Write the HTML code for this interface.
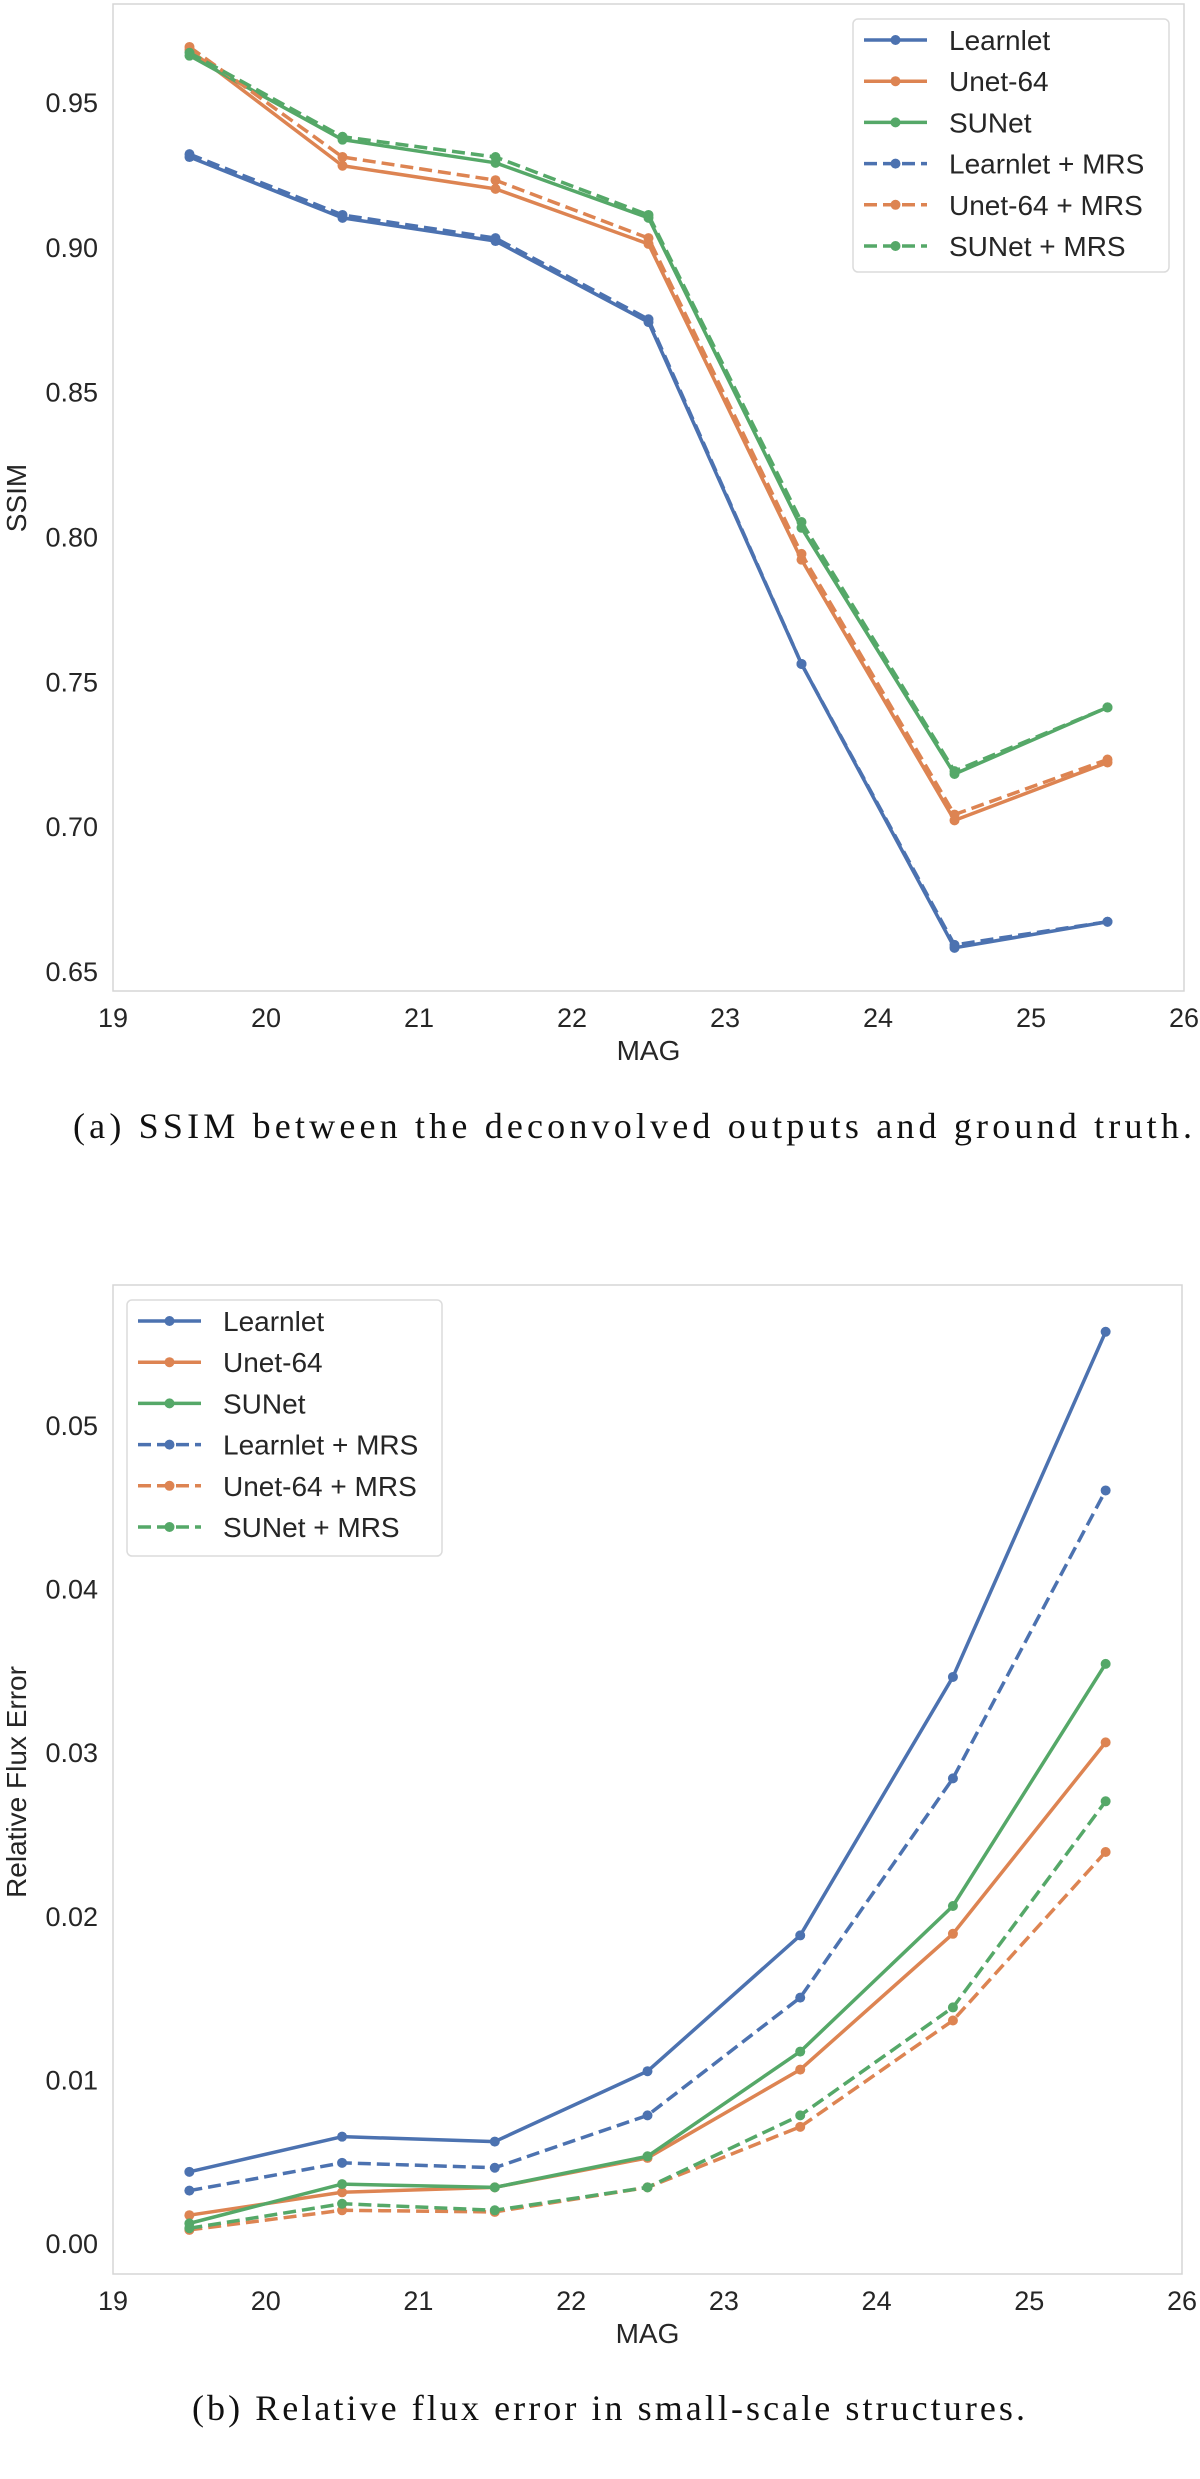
<!DOCTYPE html>
<html><head><meta charset="utf-8"><style>
html,body{margin:0;padding:0;background:#fff;}
svg{display:block;}
text{font-family:"Liberation Sans",sans-serif;fill:#262626;}
.cap{font-family:"Liberation Serif",serif;fill:#111;}
</style></head><body>
<svg id="svg" width="1200" height="2479" viewBox="0 0 1200 2479" xmlns="http://www.w3.org/2000/svg">
<text class="cap" x="73" y="1138" font-size="36" textLength="1119" lengthAdjust="spacing">(a) SSIM between the deconvolved outputs and ground truth.</text>
<text class="cap" x="192" y="2420" font-size="36" textLength="833" lengthAdjust="spacing">(b) Relative flux error in small-scale structures.</text>
</svg>
<script>
const mags = [19.5, 20.5, 21.5, 22.5, 23.5, 24.5, 25.5];
const seriesNames = ["Learnlet", "Unet-64", "SUNet", "Learnlet + MRS", "Unet-64 + MRS", "SUNet + MRS"];
const ssimLearnlet = [0.931, 0.910, 0.902, 0.874, 0.756, 0.658, 0.667];
const ssimUnet = [0.968, 0.928, 0.920, 0.901, 0.792, 0.702, 0.722];
const ssimSUNet = [0.966, 0.937, 0.929, 0.910, 0.803, 0.718, 0.741];
const ssimLearnletMRS = [0.932, 0.911, 0.903, 0.875, 0.756, 0.659, 0.667];
const ssimUnetMRS = [0.969, 0.931, 0.923, 0.903, 0.794, 0.704, 0.723];
const ssimSUNetMRS = [0.967, 0.938, 0.931, 0.911, 0.805, 0.719, 0.741];
const fluxLearnlet = [0.00435, 0.0065, 0.0062, 0.0105, 0.0188, 0.0346, 0.0557];
const fluxUnet = [0.0017, 0.0031, 0.0034, 0.0052, 0.0106, 0.0189, 0.0306];
const fluxSUNet = [0.0012, 0.0036, 0.0034, 0.0053, 0.0117, 0.0206, 0.0354];
const fluxLearnletMRS = [0.0032, 0.0049, 0.0046, 0.0078, 0.0150, 0.0284, 0.0460];
const fluxUnetMRS = [0.0008, 0.0020, 0.0019, 0.0034, 0.0071, 0.0136, 0.0239];
const fluxSUNetMRS = [0.0009, 0.0024, 0.0020, 0.0034, 0.0078, 0.0144, 0.0270];
const xTicks = [19, 20, 21, 22, 23, 24, 25, 26];
const ssimTicks = [0.65, 0.70, 0.75, 0.80, 0.85, 0.90, 0.95];
const fluxTicks = [0.00, 0.01, 0.02, 0.03, 0.04, 0.05];

const NS = "http://www.w3.org/2000/svg";
const svg = document.getElementById("svg");
const colors = ["#4C72B0", "#DD8452", "#55A868", "#4C72B0", "#DD8452", "#55A868"];
function mk(tag, attrs, parent) {
  const e = document.createElementNS(NS, tag);
  for (const k in attrs) e.setAttribute(k, attrs[k]);
  (parent || svg).appendChild(e);
  return e;
}
function chart(cfg) {
  const g = mk("g", {});
  
  
  const X = v => cfg.L + (v - 19) / 7 * (cfg.R - cfg.L);
  const Y = v => cfg.y0px + (v - cfg.y0) / (cfg.y1 - cfg.y0) * (cfg.y1px - cfg.y0px);
  const frame = mk("rect", {x: cfg.L, y: cfg.T, width: cfg.R - cfg.L, height: cfg.B - cfg.T, fill: "#fff", stroke: "#d6d6d6", "stroke-width": 1.5}, g);
  
  
  xTicks.forEach(t => {
    const tx = mk("text", {x: X(t), y: cfg.B + 36, "font-size": 27, "text-anchor": "middle"}, g);
    tx.textContent = t;
    
    
  });
  cfg.ticks.forEach(t => {
    const ty = mk("text", {x: cfg.L - 15, y: Y(t) + 10, "font-size": 27, "text-anchor": "end"}, g);
    ty.textContent = t.toFixed(2);
    
    
  });
  const xt = mk("text", {x: (cfg.L + cfg.R) / 2, y: cfg.B + 69, "font-size": 28, "text-anchor": "middle"}, g);
  xt.textContent = "MAG";
  
  
  const yt = mk("text", {x: 0, y: 0, "font-size": 28, "text-anchor": "middle", transform: `translate(26,${cfg.ylabY}) rotate(-90)`}, g);
  yt.textContent = cfg.ylabel;
  
  
  cfg.series.forEach((s, i) => {
    const sg = mk("g", {}, g);
    
    
    const pts = s.map((v, j) => X(mags[j]) + "," + Y(v)).join(" ");
    const attrs = {points: pts, fill: "none", stroke: colors[i], "stroke-width": 3.5, "stroke-linejoin": "round"};
    if (i >= 3) attrs["stroke-dasharray"] = "13,6";
    const pl = mk("polyline", attrs, sg);
    
    
    s.forEach((v, j) => {
      const c = mk("circle", {cx: X(mags[j]), cy: Y(v), r: 5, fill: colors[i]}, sg);
      
      
    });
  });
  const lg = mk("g", {}, g);
  
  
  const lb = mk("rect", {x: cfg.lx, y: cfg.ly, width: cfg.lw, height: cfg.lh, rx: 5, fill: "#fff", "fill-opacity": 0.85, stroke: "#dcdcdc", "stroke-width": 1.5}, lg);
  
  
  seriesNames.forEach((n, i) => {
    const ey = cfg.ly + 21 + i * 41.2;
    const eg = mk("g", {}, lg);
    
    
    const la = {x1: cfg.lx + 11, x2: cfg.lx + 74, y1: ey, y2: ey, stroke: colors[i], "stroke-width": 3.5};
    if (i >= 3) la["stroke-dasharray"] = "13,6";
    mk("line", la, eg);
    mk("circle", {cx: cfg.lx + 42.5, cy: ey, r: 5, fill: colors[i]}, eg);
    const t = mk("text", {x: cfg.lx + 96, y: ey + 10, "font-size": 28}, eg);
    t.textContent = n;
  });
}
chart({name: "ssim-chart", L: 113, R: 1184, T: 4, B: 991, y0: 0.65, y1: 0.95, y0px: 971, y1px: 102,
  ticks: ssimTicks, ylabel: "SSIM", ylabY: 498,
  series: [ssimLearnlet, ssimUnet, ssimSUNet, ssimLearnletMRS, ssimUnetMRS, ssimSUNetMRS],
  lx: 853, ly: 19, lw: 316, lh: 253});
chart({name: "flux-error-chart", L: 113, R: 1182, T: 1285, B: 2274, y0: 0, y1: 0.05, y0px: 2243, y1px: 1425,
  ticks: fluxTicks, ylabel: "Relative Flux Error", ylabY: 1782,
  series: [fluxLearnlet, fluxUnet, fluxSUNet, fluxLearnletMRS, fluxUnetMRS, fluxSUNetMRS],
  lx: 127, ly: 1300, lw: 315, lh: 256});
</script>
</body></html>
